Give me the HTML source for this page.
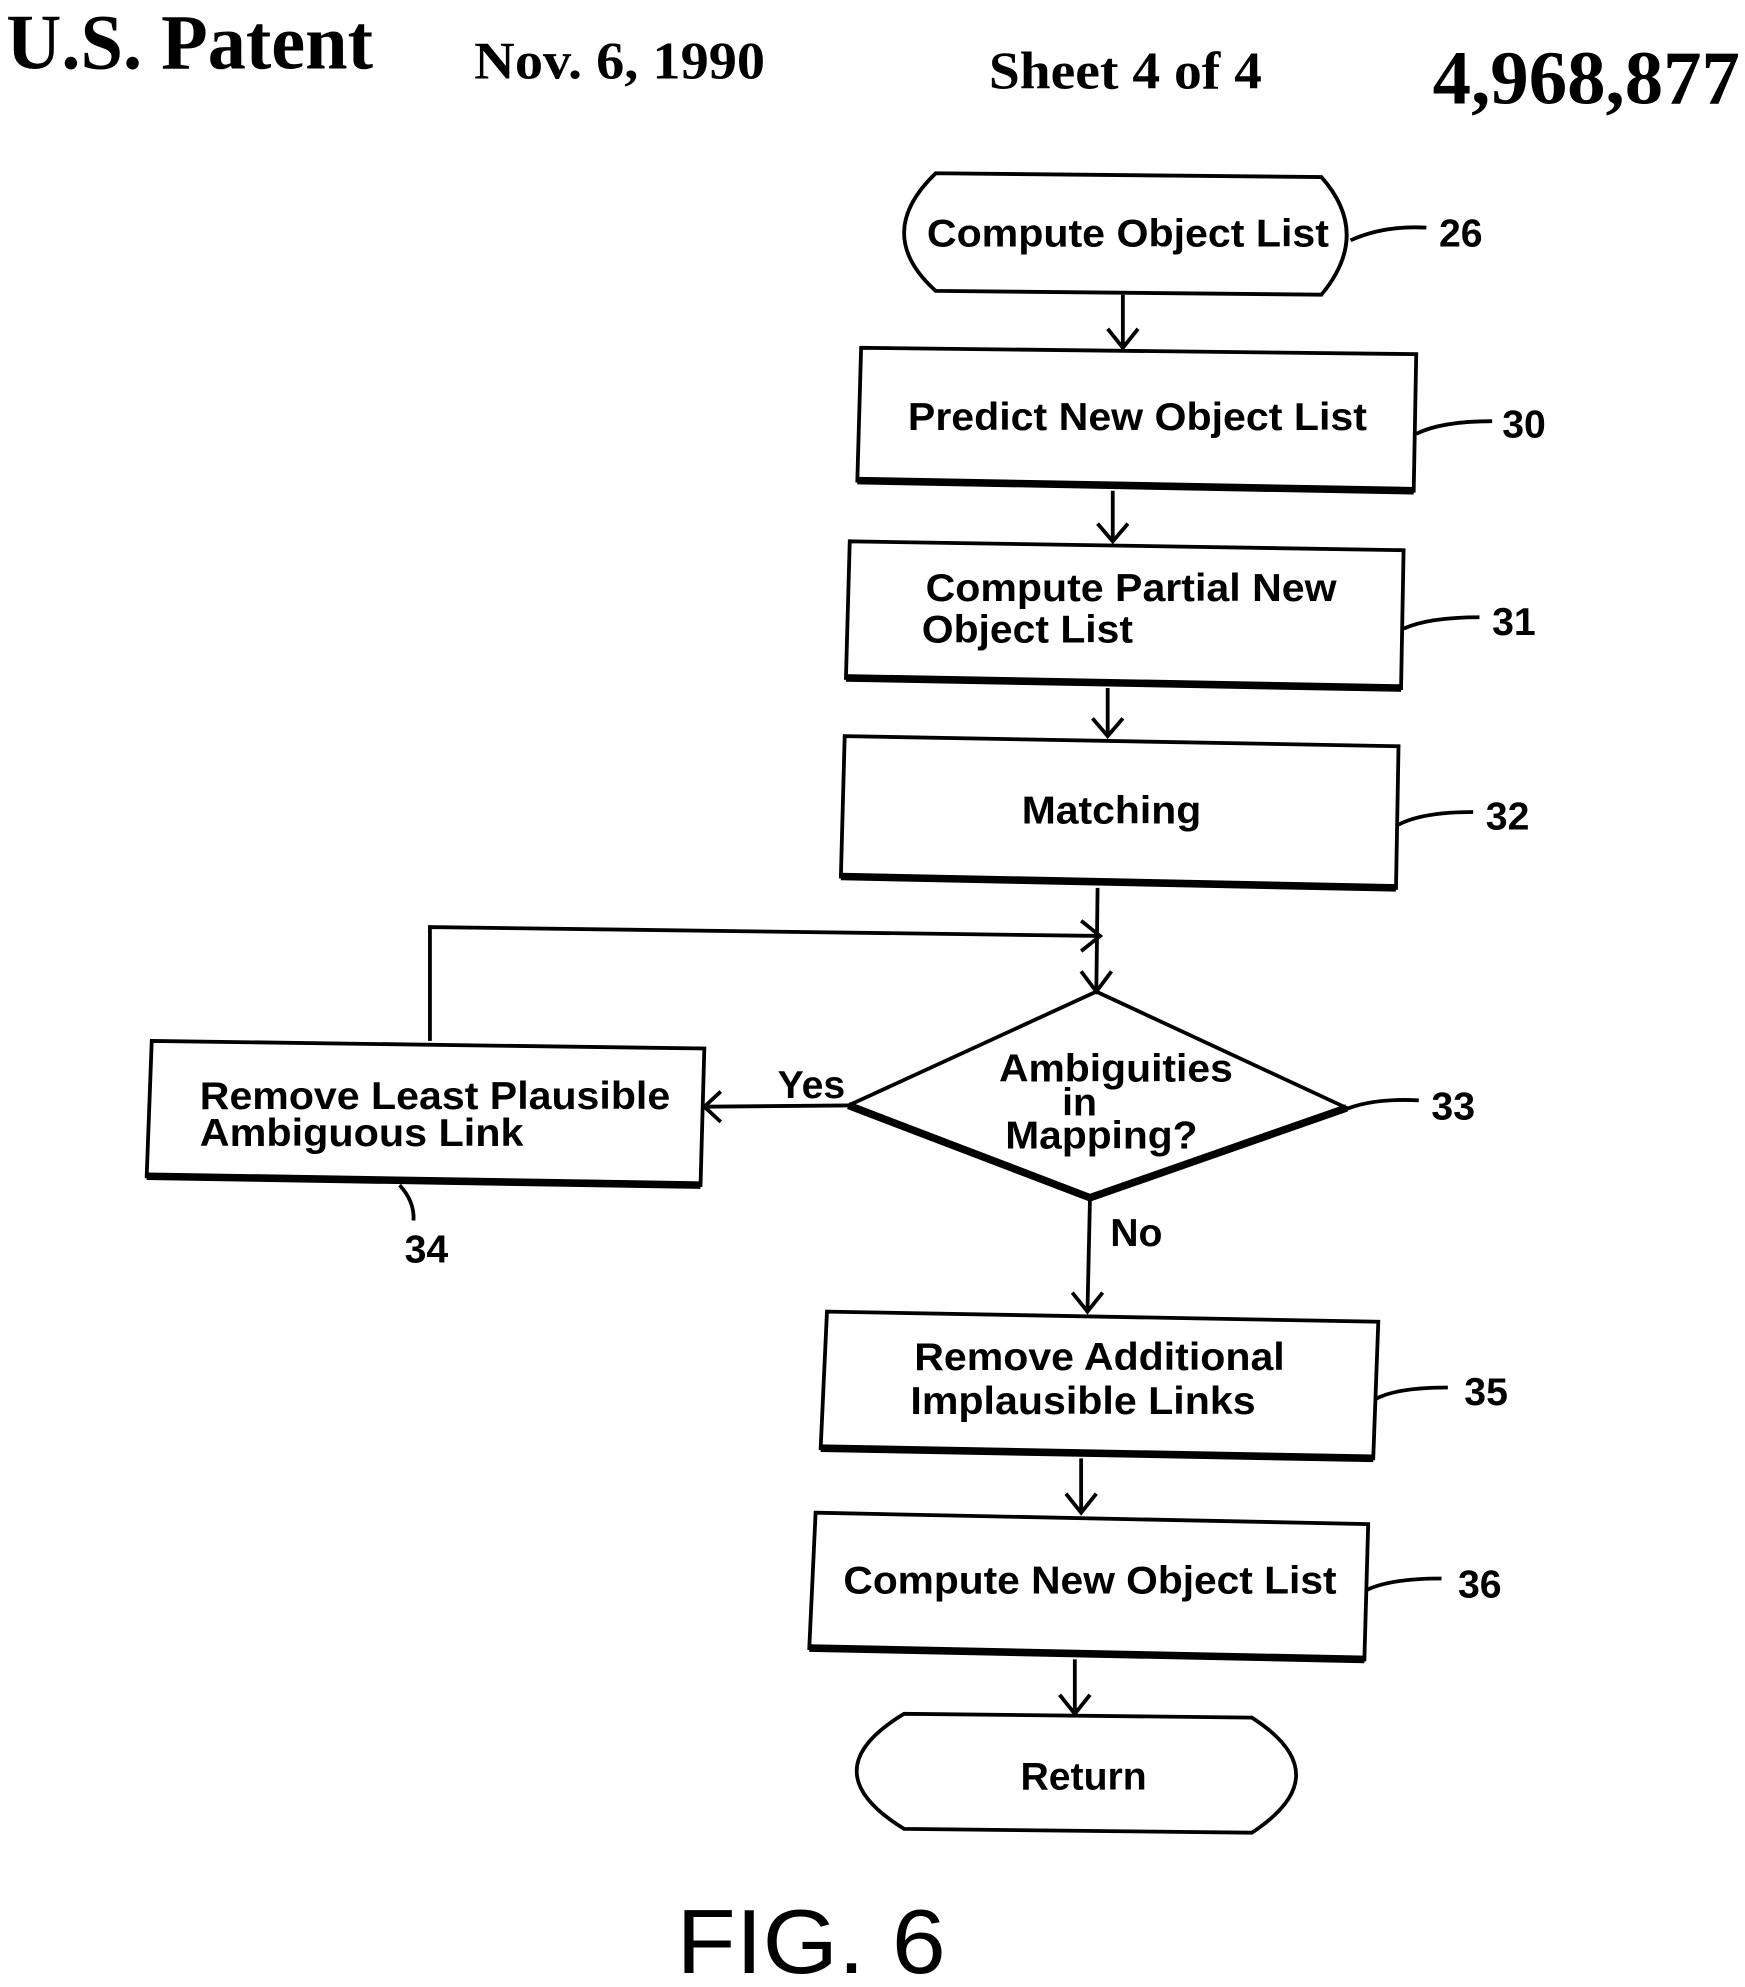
<!DOCTYPE html>
<html><head><style>
html,body{margin:0;padding:0;background:#fff}
svg{display:block}
.t{font-family:"Liberation Sans",sans-serif;font-weight:bold;font-size:31px;fill:#000}
.h{font-family:"Liberation Serif",serif;font-weight:bold;fill:#000}
</style></head><body>
<svg width="1745" height="1987" viewBox="0 0 1380 1571" preserveAspectRatio="none" xmlns="http://www.w3.org/2000/svg">
<g fill="none" stroke="#000" stroke-width="3">
<path d="M740 137 L1045 140 Q1085 185 1045 233 L740 230 Q690 185 740 137 Z"/>
<path d="M681 275 L1120 280 L1118 388 L678 380 Z"/>
<path d="M672 428 L1110 435 L1108 544 L669 536 Z"/>
<path d="M668 582 L1106 590 L1104 702 L665 693 Z"/>
<path d="M120 823 L557 829 L554 937 L116 930 Z"/>
<path d="M654 1037 L1090 1045 L1086 1153 L649 1145 Z"/>
<path d="M645 1196 L1082 1205 L1079 1312 L640 1303 Z"/>
<path d="M678 380 L1118 388 M669 536 L1108 544 M665 693 L1104 702 M116 930 L554 937 M649 1145 L1086 1153 M640 1303 L1079 1312" stroke-width="6"/>
<path d="M867 784 L1065 876 L862 947 L671 874 Z"/>
<path d="M671 874 L862 947 L1065 876" stroke-width="6"/>
<path d="M715 1355 L990 1358 Q1060 1403 990 1449 L715 1446 Q640 1400 715 1355 Z"/>
<path d="M888 233 L888 275 M876 260 L888 275 L900 260"/>
<path d="M880 388 L880 428 M868 414 L880 428 L892 414"/>
<path d="M876 544 L876 582 M864 568 L876 582 L888 568"/>
<path d="M868 702 L867 784 M855 768 L867 784 L879 768"/>
<path d="M340 823 L340 733 L870 740 M855 728 L870 740 L855 752"/>
<path d="M671 874 L557 875 M570 863 L557 875 L570 887"/>
<path d="M862 947 L860 1037 M848 1022 L860 1037 L872 1022"/>
<path d="M855 1153 L855 1196 M843 1181 L855 1196 L867 1181"/>
<path d="M850 1312 L850 1355 M838 1340 L850 1355 L862 1340"/>
<path d="M1068 190 Q1095 178 1128 180"/>
<path d="M1120 343 Q1140 333 1180 333"/>
<path d="M1110 497 Q1130 488 1170 488"/>
<path d="M1106 652 Q1125 642 1165 642"/>
<path d="M1062 878 Q1085 868 1122 870"/>
<path d="M1088 1106 Q1105 1097 1145 1097"/>
<path d="M1081 1257 Q1100 1248 1140 1248"/>
<path d="M316 937 Q328 950 327 965"/>
</g>
<text class="h" x="5" y="54" font-size="62" textLength="290" lengthAdjust="spacingAndGlyphs">U.S. Patent</text>
<text class="h" x="375" y="62" font-size="42" textLength="230" lengthAdjust="spacingAndGlyphs">Nov. 6, 1990</text>
<text class="h" x="782" y="70" font-size="42" textLength="216" lengthAdjust="spacingAndGlyphs">Sheet 4 of 4</text>
<text class="h" x="1133" y="82" font-size="60" textLength="243" lengthAdjust="spacingAndGlyphs">4,968,877</text>
<text class="t" x="733" y="195" textLength="318" lengthAdjust="spacingAndGlyphs">Compute Object List</text>
<text class="t" x="1138" y="195">26</text>
<text class="t" x="718" y="340" textLength="363" lengthAdjust="spacingAndGlyphs">Predict New Object List</text>
<text class="t" x="1188" y="346">30</text>
<text class="t" x="732" y="475" textLength="325" lengthAdjust="spacingAndGlyphs">Compute Partial New</text>
<text class="t" x="729" y="508" textLength="167" lengthAdjust="spacingAndGlyphs">Object List</text>
<text class="t" x="1180" y="502">31</text>
<text class="t" x="808" y="651" textLength="142" lengthAdjust="spacingAndGlyphs">Matching</text>
<text class="t" x="1175" y="656">32</text>
<text class="t" x="158" y="877" textLength="372" lengthAdjust="spacingAndGlyphs">Remove Least Plausible</text>
<text class="t" x="158" y="906" textLength="256" lengthAdjust="spacingAndGlyphs">Ambiguous Link</text>
<text class="t" x="615" y="868">Yes</text>
<text class="t" x="790" y="855" textLength="185" lengthAdjust="spacingAndGlyphs">Ambiguities</text>
<text class="t" x="840" y="882">in</text>
<text class="t" x="795" y="908" textLength="152" lengthAdjust="spacingAndGlyphs">Mapping?</text>
<text class="t" x="1132" y="885">33</text>
<text class="t" x="320" y="998">34</text>
<text class="t" x="878" y="985">No</text>
<text class="t" x="723" y="1083" textLength="293" lengthAdjust="spacingAndGlyphs">Remove Additional</text>
<text class="t" x="720" y="1118" textLength="273" lengthAdjust="spacingAndGlyphs">Implausible Links</text>
<text class="t" x="1158" y="1111">35</text>
<text class="t" x="667" y="1260" textLength="390" lengthAdjust="spacingAndGlyphs">Compute New Object List</text>
<text class="t" x="1153" y="1263">36</text>
<text class="t" x="807" y="1415">Return</text>
<text x="535" y="1560" font-family="Liberation Sans,sans-serif" font-size="72" fill="#000" textLength="213" lengthAdjust="spacingAndGlyphs">FIG. 6</text>
</svg>
</body></html>
